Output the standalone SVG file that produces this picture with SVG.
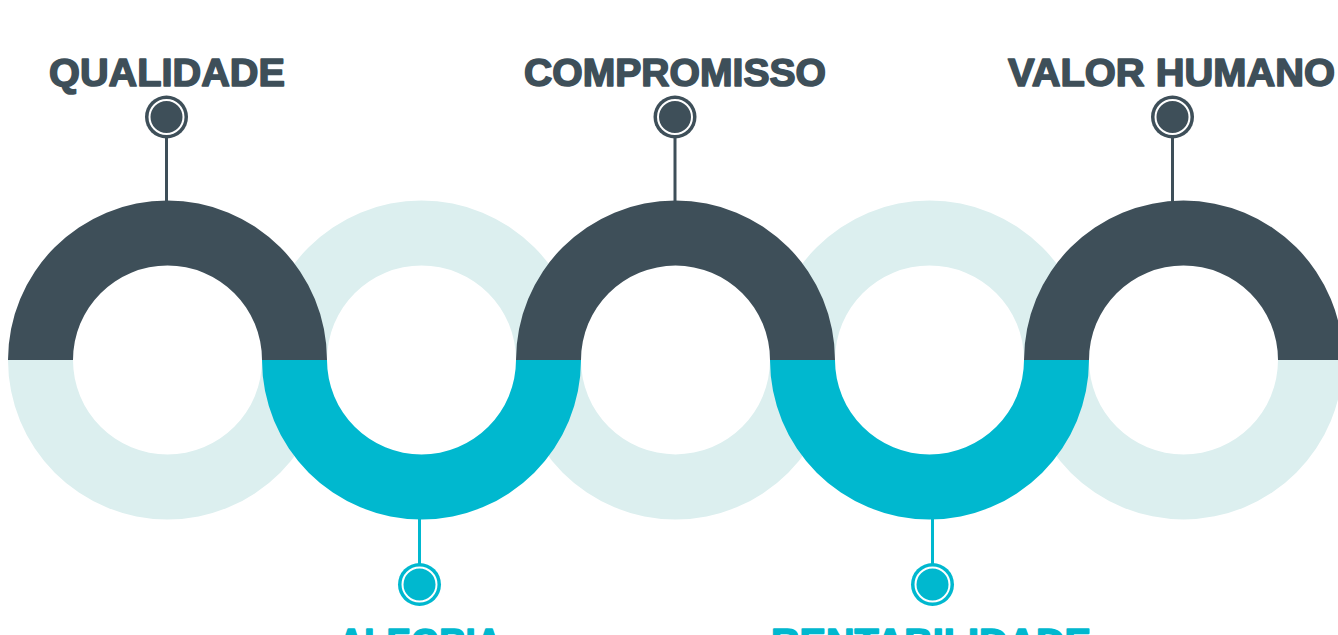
<svg xmlns="http://www.w3.org/2000/svg" width="1338" height="635" viewBox="0 0 1338 635">
<style>
.light{fill:#dcefef}
.dark{fill:#3e4f59}
.cyan{fill:#00b8cf}
.lbl{font-family:"Liberation Sans",Arial,sans-serif;font-weight:bold;font-size:39px;text-anchor:middle;stroke-width:1.6;stroke-linejoin:round}
.ld{fill:#3e4f59;stroke:#3e4f59}
.lc{fill:#00b8cf;stroke:#00b8cf}
.stemd{stroke:#3e4f59;stroke-width:3;fill:none}
.stemc{stroke:#00b8cf;stroke-width:3;fill:none}
.gap{fill:none;stroke:#fff;stroke-width:2}
</style>
<rect width="1338" height="635" fill="#fff"/>
<g id="connectors">
<path class="light" d="M8,360 A159.5,159.5 0 0 0 327,360 L262,360 A94.5,94.5 0 0 1 73,360 Z"/>
<path class="light" d="M262,360 A159.5,159.5 0 0 1 581,360 L516,360 A94.5,94.5 0 0 0 327,360 Z"/>
<path class="light" d="M516,360 A159.5,159.5 0 0 0 835,360 L770,360 A94.5,94.5 0 0 1 581,360 Z"/>
<path class="light" d="M770,360 A159.5,159.5 0 0 1 1089,360 L1024,360 A94.5,94.5 0 0 0 835,360 Z"/>
<path class="light" d="M1024,360 A159.5,159.5 0 0 0 1343,360 L1278,360 A94.5,94.5 0 0 1 1089,360 Z"/>
<path class="dark" d="M8,360 A159.5,159.5 0 0 1 327,360 L262,360 A94.5,94.5 0 0 0 73,360 Z"/>
<path class="cyan" d="M262,360 A159.5,159.5 0 0 0 581,360 L516,360 A94.5,94.5 0 0 1 327,360 Z"/>
<path class="dark" d="M516,360 A159.5,159.5 0 0 1 835,360 L770,360 A94.5,94.5 0 0 0 581,360 Z"/>
<path class="cyan" d="M770,360 A159.5,159.5 0 0 0 1089,360 L1024,360 A94.5,94.5 0 0 1 835,360 Z"/>
<path class="dark" d="M1024,360 A159.5,159.5 0 0 1 1343,360 L1278,360 A94.5,94.5 0 0 0 1089,360 Z"/>
</g>
<g id="node-qualidade">
<line class="stemd" x1="166.5" y1="136" x2="166.5" y2="203"/>
<circle class="dark" cx="166.5" cy="117" r="21.5"/>
<circle class="gap" cx="166.5" cy="117" r="17"/>
<text class="lbl ld" x="167" y="86" textLength="236" lengthAdjust="spacingAndGlyphs">QUALIDADE</text>
</g>
<g id="node-compromisso">
<line class="stemd" x1="675" y1="136" x2="675" y2="203"/>
<circle class="dark" cx="675" cy="117" r="21.5"/>
<circle class="gap" cx="675" cy="117" r="17"/>
<text class="lbl ld" x="675" y="86" textLength="302" lengthAdjust="spacingAndGlyphs">COMPROMISSO</text>
</g>
<g id="node-valor-humano">
<line class="stemd" x1="1172.5" y1="136" x2="1172.5" y2="203"/>
<circle class="dark" cx="1172.5" cy="117" r="21.5"/>
<circle class="gap" cx="1172.5" cy="117" r="17"/>
<text class="lbl ld" x="1171.5" y="86" textLength="327" lengthAdjust="spacingAndGlyphs">VALOR HUMANO</text>
</g>
<g id="node-alegria">
<line class="stemc" x1="419.5" y1="517" x2="419.5" y2="566"/>
<circle class="cyan" cx="419.5" cy="584.5" r="21.5"/>
<circle class="gap" cx="419.5" cy="584.5" r="17"/>
<text class="lbl lc" x="420" y="656" textLength="164" lengthAdjust="spacingAndGlyphs">ALEGRIA</text>
</g>
<g id="node-rentabilidade">
<line class="stemc" x1="932.5" y1="517" x2="932.5" y2="566"/>
<circle class="cyan" cx="932.5" cy="584.5" r="21.5"/>
<circle class="gap" cx="932.5" cy="584.5" r="17"/>
<text class="lbl lc" x="931" y="656" textLength="320" lengthAdjust="spacingAndGlyphs">RENTABILIDADE</text>
</g>
</svg>
